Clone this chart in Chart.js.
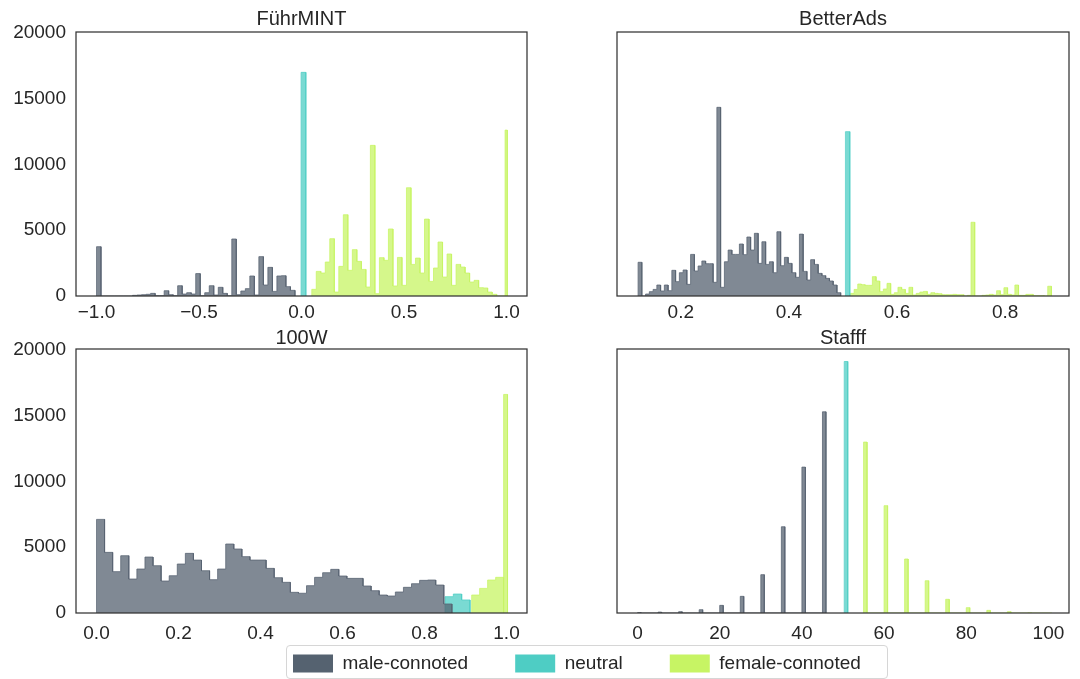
<!DOCTYPE html>
<html>
<head>
<meta charset="utf-8">
<script src="https://cdn.jsdelivr.net/npm/chart.js@4.4.1/dist/chart.umd.min.js"></script>
<style>
  body { margin: 0; background: #fff; }
  #wrap { position: relative; width: 1080px; height: 679px; overflow: hidden; }
  canvas { position: absolute; }
  #legendFrame {
    position: absolute; left: 286px; top: 645px; width: 602px; height: 34px;
    border: 1px solid #d6d6d6; border-radius: 4px; box-sizing: border-box;
  }
</style>
</head>
<body>
<div id="wrap">
  <div id="legendFrame"></div>
  <canvas id="c_fuehr" width="540" height="330" style="left:0;top:0"></canvas>
  <canvas id="c_better" width="540" height="330" style="left:540px;top:0"></canvas>
  <canvas id="c_100w" width="540" height="320" style="left:0;top:325px"></canvas>
  <canvas id="c_stafff" width="540" height="320" style="left:540px;top:325px"></canvas>
  <canvas id="c_legend" width="720" height="140" style="left:246px;top:607px"></canvas>
</div>
<script>
const groupNames = ['male-connoted', 'neutral', 'female-connoted'];
const groupColors = ['#556270', '#4ECDC4', '#C7F464'];
const groupFills = ['rgba(85,98,112,0.75)', 'rgba(78,205,196,0.75)', 'rgba(199,244,100,0.75)'];

const yTicks = [0, 5000, 10000, 15000, 20000];
const yMax = 20050;

// FührMINT (Bins: Start, Breite, Anzahl)
const fuehrTicks = [-1.0, -0.5, 0.0, 0.5, 1.0];
const fuehrMaleStart = -1.0, fuehrMaleWidth = 0.022;
const fuehrMale = [3745, 0, 0, 0, 0, 0, 0, 0, 50, 75, 100, 130, 200, 25, 25, 400, 100, 25,
  780, 150, 250, 150, 1700, 25, 250, 780, 75, 660, 200, 25, 4330, 100, 380, 560, 1520, 75,
  2990, 835, 2175, 350, 1520, 1540, 710, 430];
const fuehrNeutralStart = -0.002, fuehrNeutralWidth = 0.023;
const fuehrNeutral = [16985];
const fuehrFemaleStart = 0.05, fuehrFemaleWidth = 0.022;
const fuehrFemale = [506, 1870, 1745, 2580, 4350, 300, 2250, 6170, 1950, 3520, 2630, 2020, 680,
  11440, 180, 2910, 2710, 5090, 760, 2930, 810, 8220, 2400, 2880, 1745, 5840, 1110, 2125, 4100,
  1440, 3190, 810, 2400, 2200, 1745, 1060, 1190, 630, 610, 300, 130];
const fuehrFemaleSpikeStart = 0.993, fuehrFemaleSpikeWidth = 0.011;
const fuehrFemaleSpike = [12600];

// BetterAds
const betterTicks = [0.2, 0.4, 0.6, 0.8];
const betterMaleStart = 0.121, betterMaleWidth = 0.006939;
const betterMale = [2560, 0, 150, 330, 500, 835, 380, 835, 405, 1950, 1090, 1770, 1975, 885,
  3160, 1900, 2280, 2660, 2455, 2455, 1040, 14330, 660, 2600, 3490, 3160, 3160, 3950, 3140,
  4480, 3490, 4760, 2480, 4120, 2400, 2600, 1770, 4880, 2300, 2935, 2480, 1770, 1420, 4700,
  1870, 1215, 2760, 2400, 1720, 1545, 1340, 1140, 835, 250];
const betterNeutralStart = 0.5045, betterNeutralWidth = 0.008;
const betterNeutral = [12480];
const betterFemaleStart = 0.5138, betterFemaleWidth = 0.006758;
const betterFemale = [200, 500, 910, 860, 810, 810, 1470, 1140, 330, 530, 960, 125, 250, 660,
  500, 200, 660, 75, 200, 300, 350, 125, 250, 200, 175, 100, 100, 100, 125, 100, 100, 0, 50,
  5600, 0, 0, 50, 75, 125, 75, 400, 100, 630, 125, 75, 835, 50, 50, 125, 125, 25, 25, 25, 0, 740];

// 100W
const w100Ticks = [0.0, 0.2, 0.4, 0.6, 0.8, 1.0];
const w100MaleStart = 0.0, w100MaleWidth = 0.0197;
const w100Male = [7110, 4605, 3140, 4350, 2580, 3340, 4250, 3590, 2430, 2830, 3720, 4530, 4020,
  3210, 2530, 3340, 5240, 4860, 4280, 4020, 4020, 3390, 2680, 2330, 1570, 1500, 2075, 2710,
  3060, 3315, 2810, 2630, 2630, 2050, 1695, 1365, 1290, 1595, 1950, 2225, 2480, 2505, 2125, 685];
const w100NeutralStart = 0.85, w100NeutralWidth = 0.0203;
const w100Neutral = [1240, 1440, 990];
const w100FemaleStart = 0.915, w100FemaleWidth = 0.0195;
const w100Female = [1365, 1870, 2505, 2710];
const w100FemaleSpikeStart = 0.993, w100FemaleSpikeWidth = 0.0095;
const w100FemaleSpike = [16600];

// Stafff (einzelne Werte in 5er-Schritten)
const stafffTicks = [0, 20, 40, 60, 80, 100];
const stafffBarWidth = 0.85;
const stafffMaleX = [0, 5, 10, 15, 20, 25, 30, 35, 40, 45];
const stafffMale = [30, 70, 100, 250, 580, 1265, 2910, 6550, 11080, 15280];
const stafffNeutralX = [50.3];
const stafffNeutral = [19100];
const stafffFemaleX = [55, 60, 65, 70, 75, 80, 85, 90, 95, 100];
const stafffFemale = [12980, 8150, 4100, 2450, 1040, 405, 200, 100, 20, 0];

Chart.defaults.font.family = '"Liberation Sans", Arial, sans-serif';
Chart.defaults.color = '#262626';

function binLefts(start, width, n) {
  const out = [];
  for (let i = 0; i < n; i++) out.push(start + i * width);
  return out;
}

// Umriss eines "stepfilled"-Histogramms als Punktfolge
function histPoints(lefts, width, counts) {
  const pts = [];
  let prevRight = null;
  lefts.forEach((l, i) => {
    if (prevRight === null || Math.abs(l - prevRight) > 1e-9) {
      if (prevRight !== null) pts.push({x: prevRight, y: 0});
      pts.push({x: l, y: 0});
    }
    pts.push({x: l, y: counts[i]});
    pts.push({x: l + width, y: counts[i]});
    prevRight = l + width;
  });
  pts.push({x: prevRight, y: 0});
  return pts;
}

function uniformHist(start, width, counts) {
  return histPoints(binLefts(start, width, counts.length), width, counts);
}

const fmt1 = v => (v < -1e-9 ? '\u2212' : '') + Math.abs(v).toFixed(1);
const fmtInt = v => String(Math.round(v));

const framePlugin = {
  id: 'frame',
  afterDatasetsDraw(chart) {
    const {ctx, chartArea: a} = chart;
    ctx.save();
    ctx.strokeStyle = '#333333';
    ctx.lineWidth = 1.25;
    ctx.strokeRect(a.left, a.top, a.right - a.left, a.bottom - a.top);
    ctx.restore();
  }
};

function makePanel(id, p) {
  new Chart(document.getElementById(id), {
    type: 'line',
    data: {
      datasets: p.series.map((pts, i) => ({
        label: groupNames[i],
        data: pts,
        fill: 'origin',
        backgroundColor: groupFills[i],
        borderColor: groupFills[i],
        borderWidth: 1,
        pointRadius: 0,
        tension: 0
      }))
    },
    options: {
      responsive: false,
      animation: false,
      layout: {padding: {left: 0, right: p.padRight, top: 0, bottom: 0}},
      plugins: {
        legend: {display: false},
        tooltip: {enabled: false},
        title: {
          display: true, text: p.title, fullSize: false, color: '#262626',
          font: {size: 20, weight: 'normal', lineHeight: 1},
          padding: {top: p.titleTop, bottom: p.titleBottom}
        }
      },
      scales: {
        x: {
          type: 'linear', min: p.xMin, max: p.xMax, bounds: 'data',
          grid: {display: false, drawTicks: false},
          border: {display: false},
          ticks: {font: {size: 19}, color: '#262626', padding: p.xPad, autoSkip: false,
            maxRotation: 0, callback: v => p.fmt(v)},
          afterBuildTicks: ax => { ax.ticks = p.xTicks.map(v => ({value: v})); },
          afterFit: ax => { ax.height = p.xAxisH; }
        },
        y: {
          type: 'linear', min: 0, max: yMax, bounds: 'data',
          grid: {display: false, drawTicks: false},
          border: {display: false},
          ticks: {display: p.showY, font: {size: 19}, color: '#262626', padding: 10,
            callback: v => String(v)},
          afterBuildTicks: ax => { ax.ticks = yTicks.map(v => ({value: v})); },
          afterFit: ax => { ax.width = p.yAxisW; }
        }
      }
    },
    plugins: [framePlugin]
  });
}

makePanel('c_fuehr', {
  title: 'FührMINT', xMin: -1.1, xMax: 1.1, xTicks: fuehrTicks, fmt: fmt1,
  showY: true, yAxisW: 76, padRight: 13, xAxisH: 34, xPad: 5, titleTop: 9, titleBottom: 3,
  series: [
    uniformHist(fuehrMaleStart, fuehrMaleWidth, fuehrMale),
    uniformHist(fuehrNeutralStart, fuehrNeutralWidth, fuehrNeutral),
    uniformHist(fuehrFemaleStart, fuehrFemaleWidth, fuehrFemale)
      .concat(uniformHist(fuehrFemaleSpikeStart, fuehrFemaleSpikeWidth, fuehrFemaleSpike))
  ]
});

makePanel('c_better', {
  title: 'BetterAds', xMin: 0.082, xMax: 0.918, xTicks: betterTicks, fmt: fmt1,
  showY: false, yAxisW: 77, padRight: 11, xAxisH: 34, xPad: 5, titleTop: 9, titleBottom: 3,
  series: [
    uniformHist(betterMaleStart, betterMaleWidth, betterMale),
    uniformHist(betterNeutralStart, betterNeutralWidth, betterNeutral),
    uniformHist(betterFemaleStart, betterFemaleWidth, betterFemale)
  ]
});

makePanel('c_100w', {
  title: '100W', xMin: -0.05, xMax: 1.05, xTicks: w100Ticks, fmt: fmt1,
  showY: true, yAxisW: 76, padRight: 13, xAxisH: 32, xPad: 9, titleTop: 3, titleBottom: 1,
  series: [
    uniformHist(w100MaleStart, w100MaleWidth, w100Male),
    uniformHist(w100NeutralStart, w100NeutralWidth, w100Neutral),
    uniformHist(w100FemaleStart, w100FemaleWidth, w100Female)
      .concat(uniformHist(w100FemaleSpikeStart, w100FemaleSpikeWidth, w100FemaleSpike))
  ]
});

makePanel('c_stafff', {
  title: 'Stafff', xMin: -5, xMax: 105, xTicks: stafffTicks, fmt: fmtInt,
  showY: false, yAxisW: 77, padRight: 11, xAxisH: 32, xPad: 9, titleTop: 3, titleBottom: 1,
  series: [
    histPoints(stafffMaleX, stafffBarWidth, stafffMale),
    histPoints(stafffNeutralX, stafffBarWidth, stafffNeutral),
    histPoints(stafffFemaleX, stafffBarWidth, stafffFemale)
  ]
});

// gemeinsame Legende unter allen vier Panels
new Chart(document.getElementById('c_legend'), {
  type: 'bar',
  data: {
    labels: [],
    datasets: groupNames.map((n, i) => ({label: n, data: [], backgroundColor: groupColors[i], borderWidth: 0}))
  },
  options: {
    responsive: false,
    animation: false,
    scales: {x: {display: false}, y: {display: false}},
    plugins: {
      tooltip: {enabled: false},
      legend: {
        display: true, position: 'top', align: 'start', maxHeight: 130,
        labels: {boxWidth: 40, boxHeight: 18, padding: 47, font: {size: 19}, color: '#262626'}
      }
    }
  }
});
</script>
</body>
</html>
